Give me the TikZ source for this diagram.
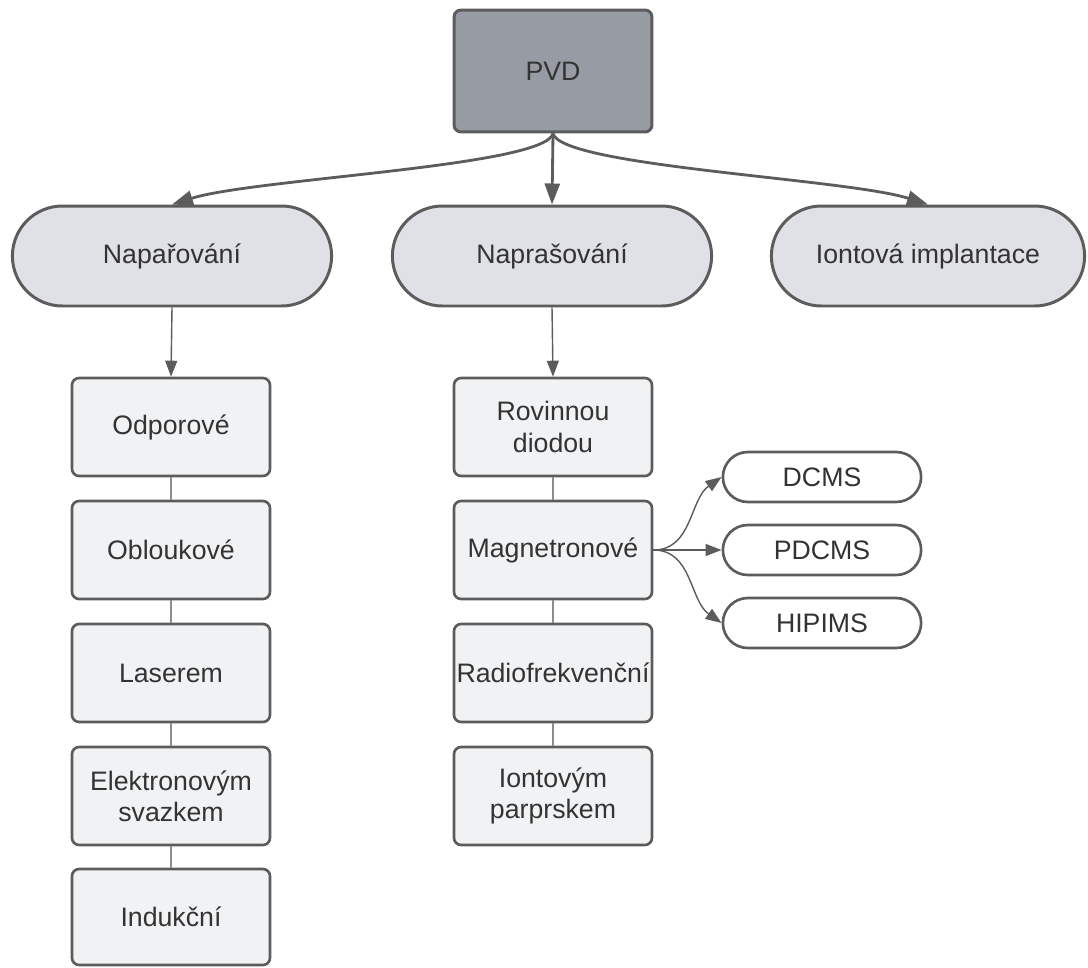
\documentclass[tikz,border=0pt]{standalone}
\usepackage{fontspec}
\setmainfont{Liberation Sans}
\usetikzlibrary{arrows.meta,shapes.misc}
\definecolor{pvdfill}{HTML}{979CA4}
\definecolor{edgegray}{HTML}{5C5C5C}
\definecolor{methodfill}{HTML}{DFE1E6}
\definecolor{boxfill}{HTML}{F1F2F4}
\definecolor{textgray}{HTML}{333333}

\begin{document}
\begin{tikzpicture}[x=0.02cm, y=-0.02cm,
  every node/.style={font=\fontsize{15.2}{17.8}\selectfont, text=textgray, align=center},
  root/.style={draw=edgegray, line width=1.7pt, fill=pvdfill, rounded corners=4pt, minimum width=3.96cm, minimum height=2.44cm},
  method/.style={rounded rectangle, draw=edgegray, line width=1.7pt, fill=methodfill, minimum width=6.62cm, minimum height=2cm},
  technique/.style={draw=edgegray, line width=1.5pt, fill=boxfill, rounded corners=4pt, inner xsep=0pt, minimum width=3.96cm, minimum height=1.96cm},
  mode/.style={rounded rectangle, draw=edgegray, line width=1.5pt, fill=white, minimum width=4.2cm, minimum height=1cm},
  branch/.style={draw=edgegray, line width=1.6pt, -{Triangle[length=0.42cm, width=0.3cm]}},
  feed/.style={draw=edgegray, line width=0.8pt, -{Triangle[length=0.32cm, width=0.24cm]}},
  link/.style={draw=edgegray!70, line width=0.6pt}
]
\useasboundingbox (0,0) rectangle (1088,967);

\node[root] (pvd) at (553,71) {PVD};

\node[method] (napar) at (172,256) {Napařování};
\node[method] (naprs) at (552,256) {Naprašování};
\node[method, minimum width=6.5cm] (ion) at (928,256) {Iontová implantace};

\node[technique] (odp) at (171,427) {Odporové};
\node[technique] (obl) at (171,550) {Obloukové};
\node[technique] (las) at (171,673) {Laserem};
\node[technique] (ele) at (171,796) {Elektronovým\\svazkem};
\node[technique, minimum height=1.92cm] (ind) at (171,917) {Indukční};

\node[technique] (rov) at (553,427) {Rovinnou\\diodou};
\node[technique] (mag) at (553,550) {Magnetronové};
\node[technique] (rad) at (553,673) {Radiofrekvenční};
\node[technique] (iob) at (553,796) {Iontovým\\parprskem};

\node[mode] (dcms) at (822,477) {DCMS};
\node[mode] (pdcms) at (822,550) {PDCMS};
\node[mode] (hipims) at (822,623) {HIPIMS};

\draw[branch] (pvd.south) .. controls +(-8,33) and +(82,-26) .. (napar.north);
\draw[branch] (pvd.south) -- (naprs.north);
\draw[branch] (pvd.south) .. controls +(8,33) and +(-82,-26) .. (ion.north);

\draw[feed] (napar.south) -- (odp.north);
\draw[feed] (naprs.south) -- (rov.north);

\foreach \a/\b in {odp/obl, obl/las, las/ele, ele/ind, rov/mag, mag/rad, rad/iob}
  \draw[link] (\a) -- (\b);

\draw[feed] (mag.east) to[out=0, in=215] (dcms.west);
\draw[feed] (mag.east) -- (pdcms.west);
\draw[feed] (mag.east) to[out=0, in=145] (hipims.west);
\end{tikzpicture}
\end{document}
